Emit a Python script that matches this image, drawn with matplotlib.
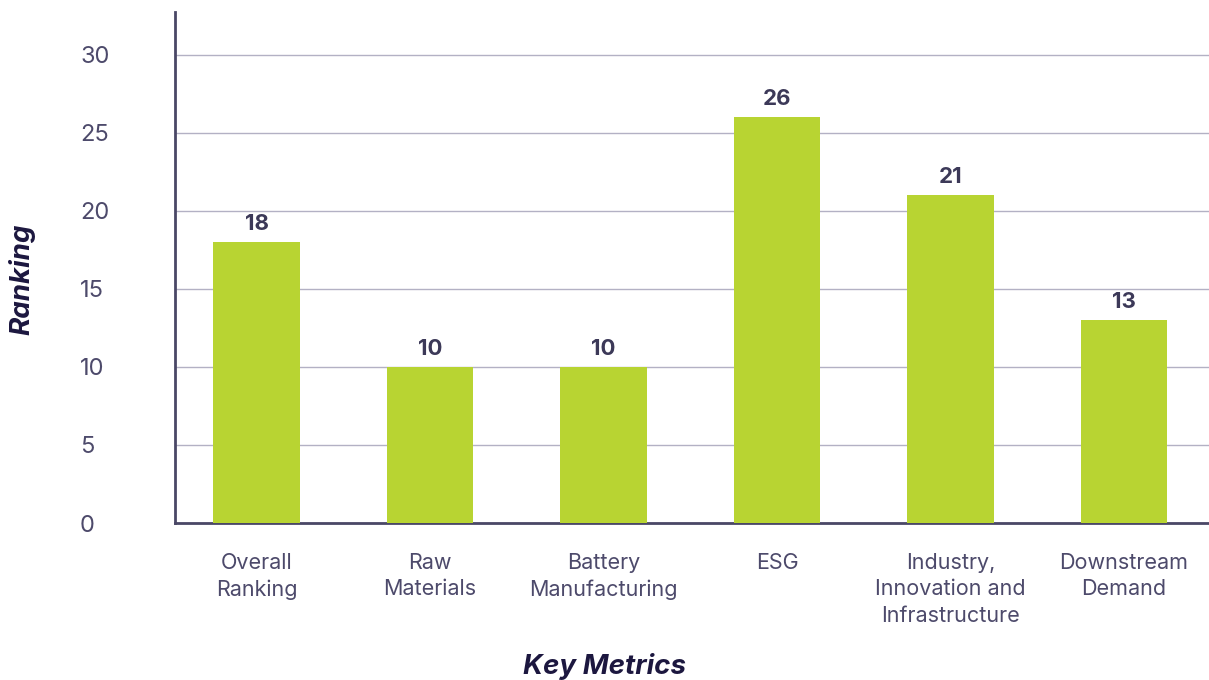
import matplotlib
matplotlib.use("Agg")
import matplotlib.pyplot as plt
import numpy as np

# categories and ranking per metric
metrics = ["Overall\nRanking", "Raw\nMaterials", "Battery\nManufacturing", "ESG",
           "Industry,\nInnovation and\nInfrastructure", "Downstream\nDemand"]
rankings = [18, 10, 10, 26, 21, 13]
y_ticks = [0, 5, 10, 15, 20, 25, 30]

bar_color = "#b8d432"
text_color = "#4d4a6b"
label_color = "#3c3958"
title_color = "#1c173f"

plt.rcParams["font.family"] = ["Inter", "DejaVu Sans"]

fig = plt.figure(figsize=(12.09, 6.8), dpi=100)
ax = fig.add_axes([175 / 1209, 1 - 523 / 680, (1209 - 175) / 1209, (523 - 12) / 680])

x = np.arange(len(metrics))
bars = ax.bar(x, rankings, width=0.5, color=bar_color, zorder=3)

for b, v in zip(bars, rankings):
    ax.annotate(str(v), (b.get_x() + b.get_width() / 2, v), xytext=(0, 6),
                textcoords="offset points", ha="center", va="bottom",
                fontsize=16, fontweight="bold", color=label_color)

ax.set_xlim(-0.47, 5.49)
ax.set_ylim(0, 32.75)
ax.set_yticks(y_ticks)
ax.set_xticks(x)
ax.set_xticklabels(metrics, fontsize=15.5, color=text_color, linespacing=1.4)
ax.tick_params(axis="y", labelsize=17, labelcolor=text_color, length=0, pad=68.4)
ax.tick_params(axis="x", length=0, pad=21.5)
for lbl in ax.get_yticklabels():
    lbl.set_horizontalalignment("left")

ax.grid(axis="y", color="#b3b1c4", linewidth=1, zorder=0)
ax.set_axisbelow(True)
for side in ["top", "right"]:
    ax.spines[side].set_visible(False)
ax.spines["left"].set_color("#4a4766")
ax.spines["left"].set_linewidth(2)
ax.spines["bottom"].set_color("#4a4766")
ax.spines["bottom"].set_linewidth(2)

fig.text(0.5, 1 - 666 / 680, "Key Metrics", ha="center", va="center", fontsize=20,
         fontweight="bold", fontstyle="italic", color=title_color)
ax.set_ylabel("Ranking", fontsize=20, fontweight="bold", fontstyle="italic",
              color=title_color)
ax.yaxis.set_label_coords(-0.1354, 0.477)

fig.savefig("out.png", dpi=100)
